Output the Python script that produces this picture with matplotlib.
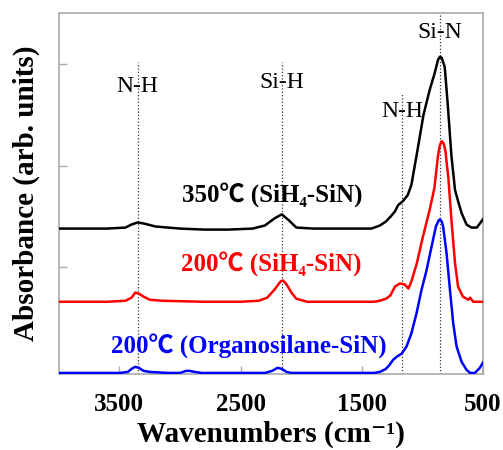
import matplotlib
matplotlib.use("Agg")
import matplotlib.pyplot as plt

# FTIR spectra, wavenumber (cm-1) vs absorbance (offset, arb. units)
wn_350 = [4000, 3600, 3450, 3400, 3350, 3300, 3200, 3000, 2800, 2600, 2400, 2300, 2220, 2160,
          2100, 2040, 1900, 1600, 1420, 1350, 1300, 1260, 1225, 1200, 1160, 1120, 1090, 1040,
          990, 940, 900, 870, 855, 840, 815, 790, 760, 730, 700, 675, 635, 595, 550, 525, 500]
abs_350 = [1.38, 1.38, 1.39, 1.42, 1.44, 1.43, 1.40, 1.38, 1.37, 1.37, 1.38, 1.41, 1.48, 1.52,
           1.46, 1.39, 1.38, 1.38, 1.38, 1.41, 1.45, 1.50, 1.55, 1.61, 1.65, 1.71, 1.81, 2.15,
           2.50, 2.74, 2.90, 3.04, 3.07, 3.06, 2.97, 2.60, 2.10, 1.76, 1.63, 1.53, 1.42, 1.39,
           1.39, 1.43, 1.47]

wn_200 = [4000, 3600, 3450, 3400, 3370, 3340, 3300, 3250, 3150, 2800, 2500, 2350, 2280, 2220,
          2170, 2150, 2120, 2080, 2040, 1950, 1600, 1400, 1350, 1300, 1265, 1225, 1185, 1145,
          1115, 1090, 1045, 995, 940, 900, 870, 855, 840, 825, 810, 785, 760, 730, 705, 665,
          620, 605, 580, 500]
abs_200 = [0.66, 0.66, 0.67, 0.70, 0.75, 0.74, 0.71, 0.68, 0.67, 0.66, 0.66, 0.67, 0.70, 0.78,
           0.86, 0.87, 0.83, 0.75, 0.69, 0.66, 0.66, 0.66, 0.67, 0.69, 0.72, 0.81, 0.84, 0.83,
           0.79, 0.86, 1.04, 1.30, 1.56, 1.78, 2.10, 2.20, 2.24, 2.22, 2.15, 1.88, 1.47, 1.04,
           0.81, 0.71, 0.68, 0.70, 0.66, 0.66]

wn_org = [4000, 3500, 3430, 3400, 3370, 3340, 3300, 3250, 3100, 3000, 2950, 2920, 2880, 2820,
          2600, 2300, 2240, 2195, 2160, 2120, 2080, 1800, 1500, 1400, 1350, 1300, 1270, 1240,
          1210, 1170, 1130, 1090, 1047, 1006, 965, 924, 888, 865, 855, 840, 828, 800, 772, 745,
          717, 676, 635, 605, 566, 525, 500]
abs_org = [-0.04, -0.04, -0.03, 0.00, 0.02, 0.01, -0.02, -0.03, -0.04, -0.04, -0.02, -0.02,
           -0.03, -0.04, -0.04, -0.04, -0.02, 0.01, 0.00, -0.03, -0.04, -0.04, -0.04, -0.04,
           -0.03, 0.00, 0.04, 0.09, 0.12, 0.15, 0.22, 0.35, 0.55, 0.78, 0.97, 1.20, 1.40, 1.46,
           1.47, 1.45, 1.40, 1.14, 0.78, 0.45, 0.22, 0.07, -0.01, -0.04, -0.04, 0.01, 0.06]

# peak assignments: position, label, dotted-line top, label height
peak_pos = [3350, 2160, 1165, 855]
peak_names = ["N-H", "Si-H", "N-H", "Si-N"]
line_tops = [3.02, 3.02, 2.70, 3.50]
label_y = [2.78, 2.82, 2.53, 3.31]

series_labels = ["350℃ (SiH₄-SiN)", "200℃ (SiH₄-SiN)", "200℃ (Organosilane-SiN)"]
series_colors = ["black", "#ff0000", "#0000ff"]
series_label_pos = [(2235, 1.71), (2250, 1.03), (2435, 0.22)]

serif = ["Liberation Serif", "Noto Sans CJK JP", "DejaVu Serif"]
plt.rcParams["font.family"] = serif

fig = plt.figure(figsize=(5.03, 4.5), dpi=100)
ax = fig.add_axes([0.117, 0.169, 0.843, 0.802])

for x, top in zip(peak_pos, line_tops):
    ax.plot([x, x], [-0.05, top], color="#333333", linestyle=":", linewidth=0.9, zorder=1)

ax.plot(wn_350, abs_350, color=series_colors[0], linewidth=1.8, zorder=3)
ax.plot(wn_200, abs_200, color=series_colors[1], linewidth=1.8, zorder=3)
ax.plot(wn_org, abs_org, color=series_colors[2], linewidth=1.8, zorder=3)

for x, name, y in zip(peak_pos, peak_names, label_y):
    ax.text(x, y, name, ha="center", va="center", fontsize=17, family=serif, zorder=4)

for (x, y), lab, c in zip(series_label_pos, series_labels, series_colors):
    ax.text(x, y, lab, ha="center", va="center", fontsize=18, fontweight="bold",
            color=c, family=serif, zorder=4)

ax.set_xlim(4000, 500)
ax.set_ylim(-0.05, 3.5)
ax.set_xticks([3500, 2500, 1500, 500])
ax.set_yticks([1, 2, 3])
ax.set_yticklabels([])
ax.tick_params(axis="both", direction="in", length=6, width=1, color="#aaaaaa")
ax.tick_params(axis="x", labelsize=18, pad=13.5)
for lab in ax.get_xticklabels():
    lab.set_fontweight("bold")
for sp in ax.spines.values():
    sp.set_color("#aaaaaa")
    sp.set_linewidth(1.2)

ax.set_xlabel("Wavenumbers (cm⁻¹)", fontsize=21, fontweight="bold", labelpad=3.5)
ax.set_ylabel("Absorbance (arb. units)", fontsize=21, fontweight="bold", labelpad=10)

fig.savefig("out.png", dpi=100)
plt.close(fig)
